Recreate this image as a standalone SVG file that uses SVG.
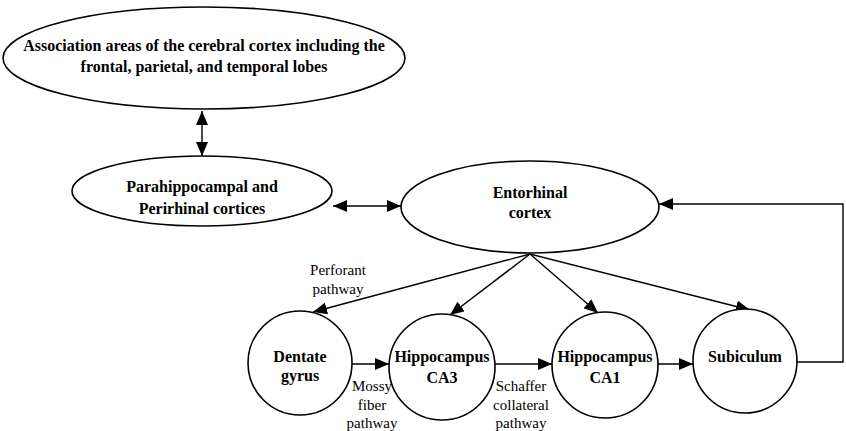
<svg xmlns="http://www.w3.org/2000/svg" width="846" height="431" viewBox="0 0 846 431">
<style>
.node{fill:#fff;stroke:#000;stroke-width:1.6}
.t{font-family:"Liberation Serif","Times New Roman",serif;font-weight:bold;font-size:16px;fill:#000;text-anchor:middle}
.lbl{font-family:"Liberation Serif","Times New Roman",serif;font-size:15px;fill:#000;text-anchor:middle}
.c{fill:none;stroke:#000;stroke-width:1.4}
</style>
<defs>
<marker id="ah" viewBox="0 0 14 12" refX="14" refY="6" markerWidth="14" markerHeight="12" markerUnits="userSpaceOnUse" orient="auto-start-reverse">
<path d="M0,0 L14,6 L0,12 z" fill="#000"/>
</marker>
</defs>
<rect width="846" height="431" fill="#fff"/>
<g id="connectors">
<line class="c" x1="202" y1="111" x2="202" y2="156" marker-start="url(#ah)" marker-end="url(#ah)"/>
<line class="c" x1="333" y1="206" x2="401" y2="206" marker-start="url(#ah)" marker-end="url(#ah)"/>
<line class="c" x1="530" y1="254" x2="313" y2="312" marker-end="url(#ah)"/>
<line class="c" x1="530" y1="254" x2="450" y2="315" marker-end="url(#ah)"/>
<line class="c" x1="530" y1="254" x2="598" y2="313" marker-end="url(#ah)"/>
<line class="c" x1="530" y1="254" x2="750" y2="310" marker-end="url(#ah)"/>
<line class="c" x1="352" y1="364" x2="389" y2="364" marker-end="url(#ah)"/>
<line class="c" x1="495" y1="364" x2="552" y2="364" marker-end="url(#ah)"/>
<line class="c" x1="658" y1="364" x2="693" y2="364" marker-end="url(#ah)"/>
<polyline class="c" points="797,362 843,362 843,204 659,204" marker-end="url(#ah)"/>
<text class="lbl" x="338" y="275">Perforant</text>
<text class="lbl" x="338" y="294">pathway</text>
<text class="lbl" x="372" y="391">Mossy</text>
<text class="lbl" x="372" y="410">fiber</text>
<text class="lbl" x="372" y="428">pathway</text>
<text class="lbl" x="521" y="391">Schaffer</text>
<text class="lbl" x="521" y="410">collateral</text>
<text class="lbl" x="521" y="428">pathway</text>
</g>
<g id="association">
<ellipse class="node" cx="204" cy="58" rx="201" ry="51"/>
<text class="t" x="204" y="51">Association areas of the cerebral cortex including the</text>
<text class="t" x="204" y="72">frontal, parietal, and temporal lobes</text>
</g>
<g id="parahippocampal">
<ellipse class="node" cx="202" cy="191" rx="130" ry="35"/>
<text class="t" x="202" y="192">Parahippocampal and</text>
<text class="t" x="202" y="214">Perirhinal cortices</text>
</g>
<g id="entorhinal">
<ellipse class="node" cx="530" cy="207" rx="129" ry="46"/>
<text class="t" x="530" y="198">Entorhinal</text>
<text class="t" x="530" y="218">cortex</text>
</g>
<g id="dentate">
<circle class="node" cx="300" cy="363" r="52"/>
<text class="t" x="300" y="362">Dentate</text>
<text class="t" x="300" y="381">gyrus</text>
</g>
<g id="ca3">
<circle class="node" cx="442" cy="367" r="53"/>
<text class="t" x="442" y="362">Hippocampus</text>
<text class="t" x="442" y="383">CA3</text>
</g>
<g id="ca1">
<circle class="node" cx="605" cy="365" r="53"/>
<text class="t" x="605" y="362">Hippocampus</text>
<text class="t" x="605" y="383">CA1</text>
</g>
<g id="subiculum">
<circle class="node" cx="745" cy="361" r="52"/>
<text class="t" x="745" y="362">Subiculum</text>
</g>
</svg>
